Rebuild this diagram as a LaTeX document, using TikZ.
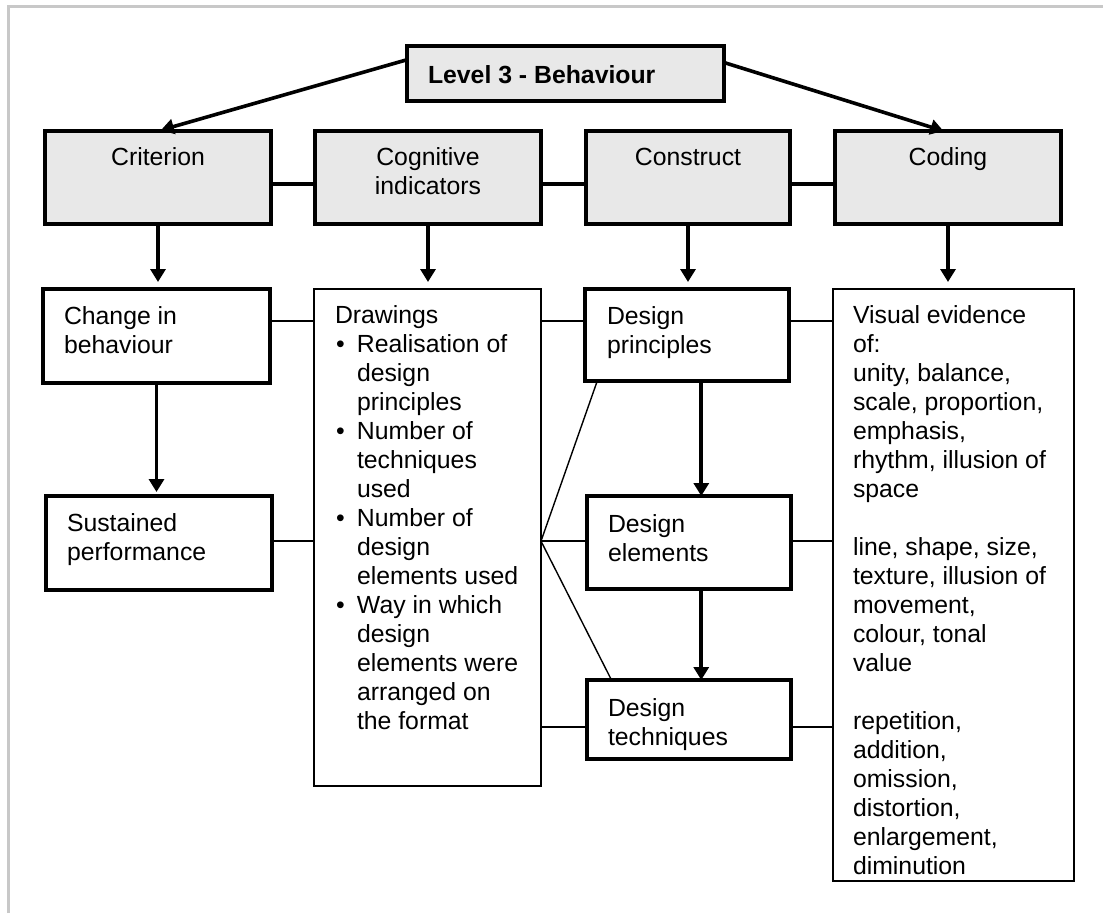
\documentclass[tikz,border=0pt]{standalone}
\usepackage{fontspec}
\setmainfont{Liberation Sans}
\usetikzlibrary{arrows.meta,calc}
\definecolor{boxgray}{RGB}{232,232,232}
\definecolor{framegray}{RGB}{200,200,200}
\begin{document}
\begin{tikzpicture}[x=1pt,y=-1pt,
  every node/.style={inner sep=0pt, outer sep=0pt},
  fnt/.style={font=\fontsize{24.8}{29}\selectfont},
  headbox/.style={draw, line width=3.6pt, fill=boxgray, anchor=north west},
  thickbox/.style={draw, line width=3.6pt, fill=white, anchor=north west},
  thinbox/.style={draw, line width=1.8pt, fill=white, anchor=north west},
  toplink/.style={line width=3.6pt},
  link/.style={line width=1.8pt},
  fan/.style={line width=1.4pt},
  arr/.style={line width=3.6pt, -{Triangle[width=15pt,length=13pt]}},
  txt/.style={fnt, align=left, anchor=north west},
  ctxt/.style={fnt, align=center, anchor=north}
]
\useasboundingbox (0,0) rectangle (1103,913);
% frame
\draw[framegray, line width=3pt] (8.5,913) -- (8.5,6.5) -- (1103,6.5);

% boxes
\node[headbox, minimum width=317pt, minimum height=55pt] (lvl) at (407,46) {};
\node[headbox, minimum width=226pt, minimum height=93pt] (crit) at (45,131) {};
\node[headbox, minimum width=226pt, minimum height=93pt] (cog) at (315,131) {};
\node[headbox, minimum width=204pt, minimum height=93pt] (cons) at (586,131) {};
\node[headbox, minimum width=226pt, minimum height=93pt] (cod) at (835,131) {};

\node[thickbox, minimum width=227pt, minimum height=94pt] (chg) at (43,289) {};
\node[thickbox, minimum width=226pt, minimum height=94pt] (sus) at (46,496) {};
\node[thinbox, minimum width=227pt, minimum height=497pt] (drw) at (314,289) {};
\node[thickbox, minimum width=204pt, minimum height=92pt] (dp) at (585,289) {};
\node[thickbox, minimum width=204pt, minimum height=93pt] (de) at (587,496) {};
\node[thickbox, minimum width=204pt, minimum height=79pt] (dt) at (587,680) {};
\node[thinbox, minimum width=241pt, minimum height=592pt] (vis) at (833,289) {};

% texts
\node[txt, font=\fontsize{24.8}{29}\selectfont\bfseries] (lvl-t) at (428,64) {\rule{0pt}{19pt}Level 3 - Behaviour};
\node[ctxt] (crit-t) at (158,146) {\rule{0pt}{19pt}Criterion};
\node[ctxt] (cog-t) at (428,146) {\rule{0pt}{19pt}Cognitive\\indicators};
\node[ctxt] (cons-t) at (688,146) {\rule{0pt}{19pt}Construct};
\node[ctxt] (cod-t) at (948,146) {\rule{0pt}{19pt}Coding};

\node[txt] (chg-t) at (64,305) {\rule{0pt}{19pt}Change in\\behaviour};
\node[txt] (sus-t) at (67,512) {\rule{0pt}{19pt}Sustained\\performance};
\node[txt] (dp-t) at (607,305) {\rule{0pt}{19pt}Design\\principles};
\node[txt] (de-t) at (608,513) {\rule{0pt}{19pt}Design\\elements};
\node[txt] (dt-t) at (608,697) {\rule{0pt}{19pt}Design\\techniques};

\node[txt] (drw-t) at (335,304) {\rule{0pt}{19pt}Drawings\\
\hspace*{1pt}\makebox[21pt][l]{\textbullet}Realisation of\\
\hspace*{22pt}design\\
\hspace*{22pt}principles\\
\hspace*{1pt}\makebox[21pt][l]{\textbullet}Number of\\
\hspace*{22pt}techniques\\
\hspace*{22pt}used\\
\hspace*{1pt}\makebox[21pt][l]{\textbullet}Number of\\
\hspace*{22pt}design\\
\hspace*{22pt}elements used\\
\hspace*{1pt}\makebox[21pt][l]{\textbullet}Way in which\\
\hspace*{22pt}design\\
\hspace*{22pt}elements were\\
\hspace*{22pt}arranged on\\
\hspace*{22pt}the format};

\node[txt] (vis-t) at (853,304) {\rule{0pt}{19pt}Visual evidence\\
of:\\
unity, balance,\\
scale, proportion,\\
emphasis,\\
rhythm, illusion of\\
space\\[29pt]
line, shape, size,\\
texture, illusion of\\
movement,\\
colour, tonal\\
value\\[29pt]
repetition,\\
addition,\\
omission,\\
distortion,\\
enlargement,\\
diminution};

% top row links
\draw[toplink] ($(crit.north east)!.57!(crit.south east)$) coordinate (t1) -- (cog.west |- t1);
\draw[toplink] (cog.east |- t1) -- (cons.west |- t1);
\draw[toplink] (cons.east |- t1) -- (cod.west |- t1);

% level arrows
\draw[arr, shorten >=3pt] ($(lvl.north west)!.25!(lvl.south west)$) -- (crit.north);
\draw[arr] ($(lvl.north east)!.3!(lvl.south east)$) -- ($(cod.north west)!.48!(cod.north east)$);

% down arrows from top row
\draw[arr, shorten >=7pt] (crit.south) -- (crit.south |- chg.north);
\draw[arr, shorten >=7pt] (cog.south) -- (cog.south |- drw.north);
\draw[arr, shorten >=7pt] (cons.south) -- (cons.south |- dp.north);
\draw[arr, shorten >=7pt] (cod.south) -- (cod.south |- vis.north);

% left column arrow
\draw[arr, shorten >=4pt] (chg.south) -- (chg.south |- sus.north);

% construct column arrows
\draw[arr] ($(dp.south west)!.57!(dp.south east)$) coordinate (a1) -- (a1 |- de.north);
\draw[arr] ($(de.south west)!.56!(de.south east)$) coordinate (a2) -- (a2 |- dt.north);

% row links
\draw[link] ($(chg.north east)!.34!(chg.south east)$) coordinate (c1) -- (drw.west |- c1);
\draw[link] (drw.east |- c1) -- (dp.west |- c1);
\draw[link] (dp.east |- c1) -- (vis.west |- c1);

\draw[link] ($(sus.north east)!.48!(sus.south east)$) coordinate (c2) -- (drw.west |- c2);
\draw[link] (de.east |- c2) -- (vis.west |- c2);

\draw[link] ($(dt.north west)!.595!(dt.south west)$) coordinate (c3) -- (drw.east |- c3);
\draw[link] (dt.east |- c3) -- (vis.west |- c3);

% fan
\coordinate (f) at (drw.east |- c2);
\draw[fan] (f) -- (de.west |- c2);
\draw[fan] (f) -- ($(dp.south west)!.06!(dp.south east)$);
\draw[fan] (f) -- ($(dt.north west)!.12!(dt.north east)$);
\end{tikzpicture}
\end{document}
